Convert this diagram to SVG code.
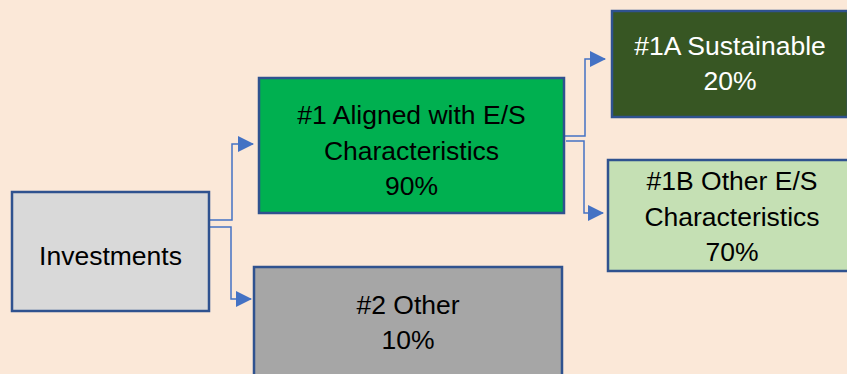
<svg xmlns="http://www.w3.org/2000/svg" width="847" height="374" viewBox="0 0 847 374">
<style>
.box{stroke:#2F528F;stroke-width:2.5}
.t{font-family:"Liberation Sans",Arial,sans-serif;font-size:26.5px;text-anchor:middle;fill:#000}
.w{fill:#fff}
.c{fill:none;stroke:#4472C4;stroke-width:1.5}
</style>
<defs>
<marker id="ah" markerUnits="userSpaceOnUse" markerWidth="16" markerHeight="16" refX="15" refY="8" orient="auto">
<path d="M0,0 L16,8 L0,16 Z" fill="#4472C4"/>
</marker>
</defs>
<rect width="847" height="374" fill="#FBE8D8"/>
<g id="connectors">
<path class="c" d="M209,220 H232 V144 H253" marker-end="url(#ah)"/>
<path class="c" d="M210,227 H231 V299 H251" marker-end="url(#ah)"/>
<path class="c" d="M565,136 H585 V59 H605" marker-end="url(#ah)"/>
<path class="c" d="M566,141 H584 V213 H603" marker-end="url(#ah)"/>
</g>
<g id="investments">
<rect class="box" x="12" y="192" width="197" height="119" fill="#D9D9D9"/>
<text class="t" x="110.5" y="265">Investments</text>
</g>
<g id="aligned">
<rect class="box" x="259" y="78" width="305" height="135" fill="#00B050"/>
<text class="t" x="411.5" y="124">#1 Aligned with E/S</text>
<text class="t" x="411.5" y="160">Characteristics</text>
<text class="t" x="411.5" y="195">90%</text>
</g>
<g id="other">
<rect class="box" x="254" y="267" width="308" height="120" fill="#A6A6A6"/>
<text class="t" x="408" y="314">#2 Other</text>
<text class="t" x="408" y="349">10%</text>
</g>
<g id="sustainable">
<rect class="box" x="612" y="11" width="236" height="106" fill="#375623"/>
<text class="t w" x="730" y="55">#1A Sustainable</text>
<text class="t w" x="730" y="90">20%</text>
</g>
<g id="otherES">
<rect class="box" x="608" y="160" width="248" height="111" fill="#C5E0B4"/>
<text class="t" x="732" y="190">#1B Other E/S</text>
<text class="t" x="732" y="226">Characteristics</text>
<text class="t" x="732" y="261">70%</text>
</g>
</svg>
